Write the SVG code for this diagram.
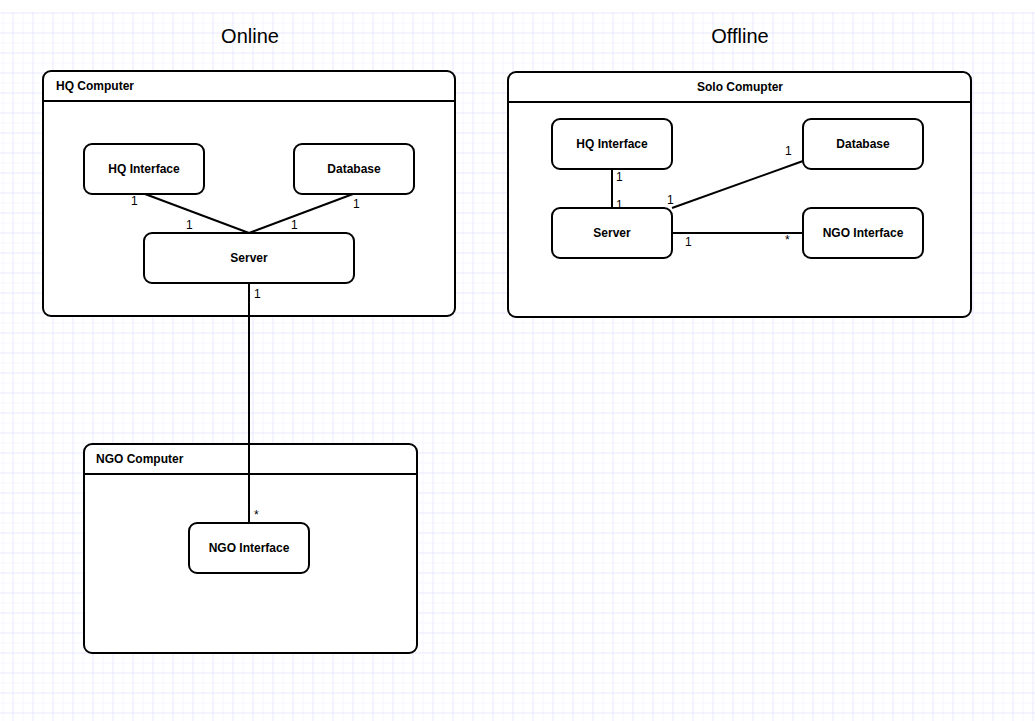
<svg xmlns="http://www.w3.org/2000/svg" width="1035" height="721" viewBox="0 0 1035 721">
<style>
.box{fill:#fff;stroke:#000;stroke-width:2}
.sep{stroke:#000;stroke-width:2}
.lbl{font-family:"Liberation Sans",Arial,sans-serif;font-size:12px;font-weight:bold;fill:#000}
.mult{font-family:"Liberation Sans",Arial,sans-serif;font-size:12px;fill:#000}
.title{font-family:"Liberation Sans",Arial,sans-serif;font-size:20px;fill:#000}
.conn line{stroke:#000;stroke-width:2}
</style>
<defs>
<pattern id="minor" x="2.5" y="2.5" width="10" height="10" patternUnits="userSpaceOnUse">
<path d="M0 0H10M0 0V10" fill="none" stroke="#efefff" stroke-width="1"/>
</pattern>
<pattern id="major" x="12.5" y="12.5" width="20" height="20" patternUnits="userSpaceOnUse">
<path d="M0 0H20M0 0V20" fill="none" stroke="#e0e0fb" stroke-width="1"/>
</pattern>
</defs>
<rect x="0" y="0" width="1035" height="721" fill="#fff"/>
<rect x="0" y="12" width="1035" height="709" fill="url(#minor)"/>
<rect x="0" y="12" width="1035" height="709" fill="url(#major)"/>

<text class="title" x="250" y="43" text-anchor="middle">Online</text>
<text class="title" x="740" y="43" text-anchor="middle">Offline</text>

<g id="hq-computer">
<rect class="box" x="43" y="71" width="412" height="245" rx="8"/>
<line class="sep" x1="43" y1="101" x2="455" y2="101"/>
<text class="lbl" x="56" y="90">HQ Computer</text>
</g>
<g id="ngo-computer">
<rect class="box" x="84" y="444" width="333" height="209" rx="8"/>
<line class="sep" x1="84" y1="474" x2="417" y2="474"/>
<text class="lbl" x="96" y="463">NGO Computer</text>
</g>
<g id="solo-computer">
<rect class="box" x="508" y="72" width="463" height="245" rx="8"/>
<line class="sep" x1="508" y1="102" x2="971" y2="102"/>
<text class="lbl" x="740" y="91" text-anchor="middle">Solo Comupter</text>
</g>

<g id="connectors" class="conn">
<line x1="145" y1="194" x2="249" y2="233"/>
<line x1="353" y1="194" x2="249" y2="233"/>
<line x1="249" y1="283" x2="249" y2="523"/>
<line x1="612" y1="169" x2="612" y2="208"/>
<line x1="672" y1="208" x2="803" y2="161"/>
<line x1="672" y1="233" x2="803" y2="233"/>
</g>

<g id="hq-interface">
<rect class="box" x="84" y="144" width="120" height="50" rx="8"/>
<text class="lbl" x="144" y="173" text-anchor="middle">HQ Interface</text>
</g>
<g id="hq-database">
<rect class="box" x="294" y="144" width="120" height="50" rx="8"/>
<text class="lbl" x="354" y="173" text-anchor="middle">Database</text>
</g>
<g id="hq-server">
<rect class="box" x="144" y="233" width="210" height="50" rx="8"/>
<text class="lbl" x="249" y="262" text-anchor="middle">Server</text>
</g>
<g id="ngo-interface">
<rect class="box" x="189" y="523" width="120" height="50" rx="8"/>
<text class="lbl" x="249" y="552" text-anchor="middle">NGO Interface</text>
</g>
<g id="solo-hq-interface">
<rect class="box" x="552" y="119" width="120" height="50" rx="8"/>
<text class="lbl" x="612" y="148" text-anchor="middle">HQ Interface</text>
</g>
<g id="solo-database">
<rect class="box" x="803" y="119" width="120" height="50" rx="8"/>
<text class="lbl" x="863" y="148" text-anchor="middle">Database</text>
</g>
<g id="solo-server">
<rect class="box" x="552" y="208" width="120" height="50" rx="8"/>
<text class="lbl" x="612" y="237" text-anchor="middle">Server</text>
</g>
<g id="solo-ngo-interface">
<rect class="box" x="803" y="208" width="120" height="50" rx="8"/>
<text class="lbl" x="863" y="237" text-anchor="middle">NGO Interface</text>
</g>

<g id="multiplicities">
<text class="mult" x="131" y="205">1</text>
<text class="mult" x="186" y="229">1</text>
<text class="mult" x="291" y="229">1</text>
<text class="mult" x="353" y="208">1</text>
<text class="mult" x="254" y="298">1</text>
<text class="mult" x="254" y="519">*</text>
<text class="mult" x="616" y="181">1</text>
<text class="mult" x="616" y="209">1</text>
<text class="mult" x="667" y="204">1</text>
<text class="mult" x="785" y="155">1</text>
<text class="mult" x="685" y="246">1</text>
<text class="mult" x="785" y="244">*</text>
</g>
</svg>
